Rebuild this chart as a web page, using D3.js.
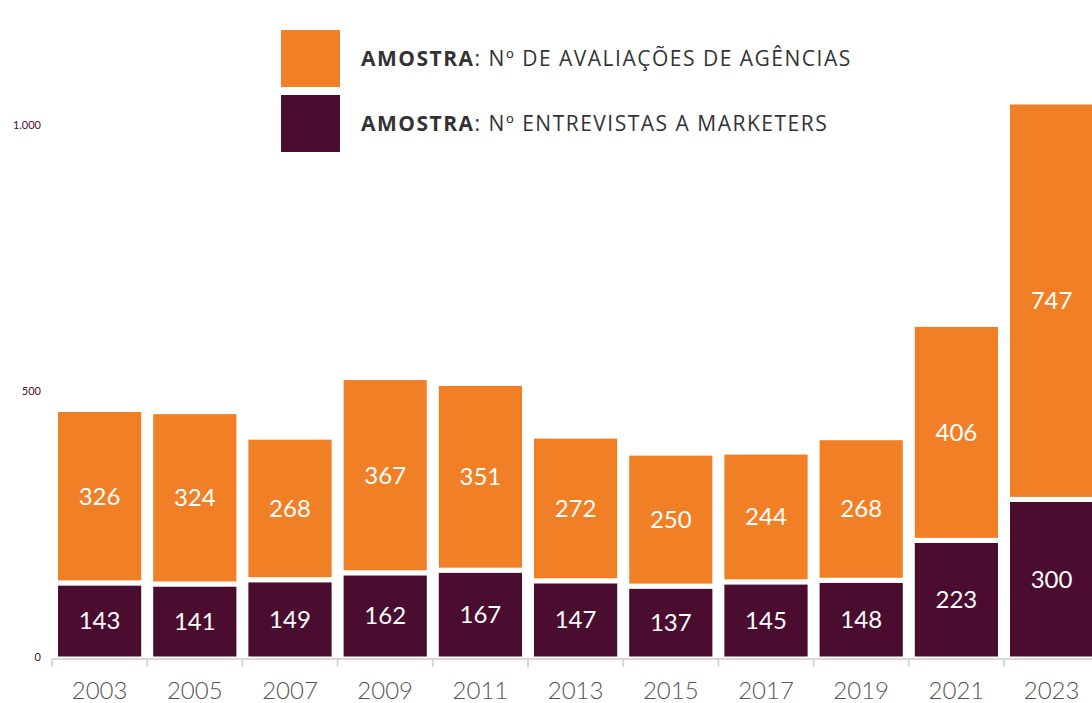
<!DOCTYPE html>
<html>
<head>
<meta charset="utf-8">
<script src="https://cdn.jsdelivr.net/npm/d3@7"></script>
<style>
  body { margin: 0; background: #fff; }
  svg { display: block; font-family: Lato, "Open Sans", sans-serif; }
</style>
</head>
<body>
<svg id="chart" width="1092" height="703"></svg>
<script>
var years = ["2003", "2005", "2007", "2009", "2011", "2013", "2015", "2017", "2019", "2021", "2023"];
var marketers = [143, 141, 149, 162, 167, 147, 137, 145, 148, 223, 300];
var agencias = [326, 324, 268, 367, 351, 272, 250, 244, 268, 406, 747];
var yTicks = [0, 500, 1000];
var legendLabels = ["Nº DE AVALIAÇÕES DE AGÊNCIAS", "Nº ENTREVISTAS A MARKETERS"];

var orange = "#f07f26";
var purple = "#4a0d2f";

var svg = d3.select("#chart");

var x = d3.scaleBand()
    .domain(years)
    .range([52, 52 + 11 * 95.2])
    .paddingInner(0.1)
    .paddingOuter(0.05);

var y = d3.scaleLinear()
    .domain([0, 1000])
    .range([659, 127]);

// eixo y (só os números)
svg.append("g")
    .selectAll("text")
    .data(yTicks)
    .enter()
    .append("text")
    .attr("x", 41)
    .attr("y", function(d){ return y(d) - 2; })
    .attr("dy", "0.35em")
    .attr("text-anchor", "end")
    .style("font-size", "11px")
    .style("fill", purple)
    .text(function(d){ return d3.format(",")(d).replace(",", "."); });

// barras empilhadas
var rows = years.map(function(yr, i){
    return {year: yr, m: marketers[i], a: agencias[i]};
});

var g = svg.append("g");

var bw = x.step() - 7;
function bx(d){ return x(d.year) + x.bandwidth() / 2 - bw / 2; }

g.selectAll("rect.m")
    .data(rows)
    .enter()
    .append("rect")
    .attr("class", "m")
    .attr("x", bx)
    .attr("width", bw)
    .attr("y", function(d){ return y(d.m); })
    .attr("height", function(d){ return y(0) - y(d.m); })
    .style("fill", purple)
    .style("stroke", "#fff")
    .style("stroke-width", 5);

g.selectAll("rect.a")
    .data(rows)
    .enter()
    .append("rect")
    .attr("class", "a")
    .attr("x", bx)
    .attr("width", bw)
    .attr("y", function(d){ return y(d.m + d.a); })
    .attr("height", function(d){ return y(d.m) - y(d.m + d.a); })
    .style("fill", orange)
    .style("stroke", "#fff")
    .style("stroke-width", 5);

// rótulos de valores
g.selectAll("text.m")
    .data(rows)
    .enter()
    .append("text")
    .attr("x", function(d){ return x(d.year) + x.bandwidth() / 2; })
    .attr("y", function(d){ return (y(0) + y(d.m)) / 2; })
    .attr("dy", "0.35em")
    .attr("text-anchor", "middle")
    .style("font-size", "24px")
    .style("fill", "#fff")
    .text(function(d){ return d.m; });

g.selectAll("text.a")
    .data(rows)
    .enter()
    .append("text")
    .attr("x", function(d){ return x(d.year) + x.bandwidth() / 2; })
    .attr("y", function(d){ return (y(d.m) + y(d.m + d.a)) / 2; })
    .attr("dy", "0.35em")
    .attr("text-anchor", "middle")
    .style("font-size", "24px")
    .style("fill", "#fff")
    .text(function(d){ return d.a; });

// eixo x
var xAxis = svg.append("g").attr("transform", "translate(0,659)");
var edges = years.map(function(yr){ return x(yr) - x.step() * x.paddingInner() / 2; });
edges.push(edges[edges.length - 1] + x.step());

xAxis.append("line")
    .attr("x1", edges[0])
    .attr("x2", 1092)
    .style("stroke", "#d9d9d9")
    .style("stroke-width", 2);

xAxis.selectAll("line.tick")
    .data(edges)
    .enter()
    .append("line")
    .attr("class", "tick")
    .attr("x1", function(d){ return d; })
    .attr("x2", function(d){ return d; })
    .attr("y1", 0)
    .attr("y2", 8)
    .style("stroke", "#d9d9d9")
    .style("stroke-width", 2);

xAxis.selectAll("text")
    .data(years)
    .enter()
    .append("text")
    .attr("x", function(d){ return x(d) + x.bandwidth() / 2; })
    .attr("y", 32)
    .attr("dy", "0.35em")
    .attr("text-anchor", "middle")
    .style("font-size", "24px")
    .style("font-weight", 300)
    .style("fill", "#555")
    .text(function(d){ return d; });

// legenda
var legend = svg.append("g");
var legendColors = [orange, purple];

legendLabels.forEach(function(lbl, i){
    var ly = 30 + i * 65;
    legend.append("rect")
        .attr("x", 281)
        .attr("y", ly)
        .attr("width", 59)
        .attr("height", 57)
        .style("fill", legendColors[i]);
    var t = legend.append("text")
        .attr("x", 361)
        .attr("y", ly + 29)
        .attr("dy", "0.35em")
        .style("font-family", "'Open Sans', sans-serif")
        .style("font-size", "21px")
        .style("letter-spacing", "1.5px")
        .style("fill", "#333");
    t.append("tspan").style("font-weight", "bold").text("AMOSTRA");
    t.append("tspan").text(": " + lbl);
});
</script>
</body>
</html>
